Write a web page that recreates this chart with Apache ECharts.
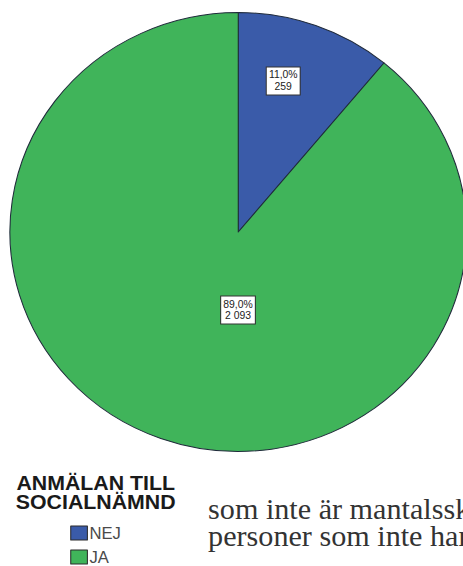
<!DOCTYPE html>
<html>
<head>
<meta charset="utf-8">
<script src="https://cdn.jsdelivr.net/npm/echarts@6/dist/echarts.min.js"></script>
<style>
  html, body { margin: 0; padding: 0; background: #fff; overflow: hidden; }
  #chart { width: 445px; height: 566px; transform: scaleX(1.0404); transform-origin: 0 0; }
</style>
</head>
<body>
<div id="chart"></div>
<script>
// Anmälan till socialnämnd: counts per answer
const categories = ['NEJ', 'JA'];
const counts = [259, 2093];
const sliceColors = ['#3A5BA9', '#40B45A'];
const legendTitle = ['ANMÄLAN TILL', 'SOCIALNÄMND'];
const bodyLines = ['som inte är mantalsskrivna', 'personer som inte har'];

// label shifts away from the default inside position (x, y)
const labelShift = [[5, -45], [38, -28]];

function fmtCount(n) {
  return String(n).replace(/\B(?=(\d{3})+(?!\d))/g, ' ');
}

const chart = echarts.init(document.getElementById('chart'), null, { renderer: 'svg' });

chart.setOption({
  animation: false,
  legend: {
    orient: 'vertical',
    left: 67.5,
    top: 525,
    padding: 0,
    itemWidth: 16,
    itemHeight: 14,
    itemGap: 8,
    icon: 'rect',
    selectedMode: false,
    data: categories,
    itemStyle: { borderColor: '#2a2a2a', borderWidth: 1 },
    textStyle: { fontSize: 16, lineHeight: 14, color: '#4a4a4a', fontFamily: 'Liberation Sans, Arial, sans-serif', padding: [2, 0, 0, -3] }
  },
  graphic: [
    {
      type: 'text',
      silent: true,
      style: {
        x: 92, y: 473,
        text: legendTitle.join('\n'),
        textAlign: 'center',
        textVerticalAlign: 'top',
        lineHeight: 19,
        font: 'bold 20.5px "Liberation Sans", Arial, sans-serif',
        fill: '#1a1a1a'
      }
    },
    {
      type: 'text',
      silent: true,
      style: {
        x: 200, y: 495,
        text: bodyLines[0],
        textAlign: 'left',
        textVerticalAlign: 'top',
        lineHeight: 29,
        font: '29px "Liberation Serif", "Times New Roman", serif',
        fill: '#333'
      }
    },
    {
      type: 'text',
      silent: true,
      style: {
        x: 200, y: 522,
        text: bodyLines[1],
        textAlign: 'left',
        textVerticalAlign: 'top',
        lineHeight: 29,
        font: '29px "Liberation Serif", "Times New Roman", serif',
        fill: '#333'
      }
    }
  ],
  series: [{
    type: 'pie',
    center: [229, 232],
    radius: [0, 219.5],
    startAngle: 90,
    clockwise: true,
    silent: true,
    itemStyle: { borderColor: '#1f2a3a', borderWidth: 1 },
    label: {
      show: true,
      position: 'inside',
      formatter: p => p.percent.toFixed(1).replace('.', ',') + '%\n' + fmtCount(p.value),
      fontSize: 10,
      lineHeight: 12,
      color: '#222',
      fontFamily: 'Liberation Sans, Arial, sans-serif',
      backgroundColor: '#fff',
      borderColor: '#333',
      borderWidth: 1,
      padding: [2, 2, 1, 2],
      align: 'center'
    },
    labelLine: { show: false },
    labelLayout: p => ({ dx: labelShift[p.dataIndex][0], dy: labelShift[p.dataIndex][1] }),
    data: categories.map((c, i) => ({ name: c, value: counts[i], itemStyle: { color: sliceColors[i] } }))
  }]
});
</script>
</body>
</html>
